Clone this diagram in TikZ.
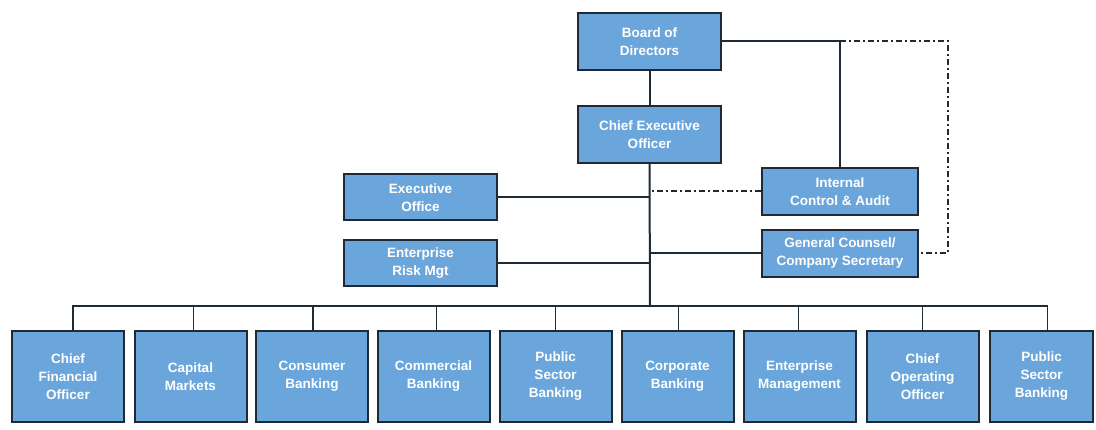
\documentclass[tikz,border=0pt]{standalone}
\usepackage{fontspec}
\setmainfont{Liberation Sans}
\usetikzlibrary{calc}
\definecolor{boxblue}{HTML}{6AA6DB}
\definecolor{edge}{HTML}{1E2A36}
\tikzset{
  box/.style={draw=edge, line width=2pt, fill=boxblue, text=white,
    font=\bfseries\fontsize{13.5}{18}\selectfont, align=center, inner sep=0pt},
  upper/.style={box, minimum width=143pt, minimum height=57pt},
  side/.style={box, minimum width=153pt, minimum height=46pt},
  staff/.style={box, minimum width=156pt, minimum height=47pt},
  unit/.style={box, minimum width=112pt, minimum height=91pt},
  link/.style={draw=edge, line width=2pt},
  buslink/.style={draw=edge, line width=1.5pt},
  dotted link/.style={draw=edge, line width=2pt, dash pattern=on 6pt off 3pt on 2pt off 3pt},
}
\begin{document}
\begin{tikzpicture}[x=1pt,y=-1pt]
\useasboundingbox[fill=white] (0,0) rectangle (1096,430);

% top of the hierarchy
\node[upper] (board) at (649.5,41.5) {Board of\\Directors};
\node[upper] (ceo) at (649.5,134.5) {Chief Executive\\Officer};

% offices beside the chief executive
\node[side] (exec) at (420.5,197.5) {Executive\\Office};
\node[side] (erm) at (420.5,263.5) {Enterprise\\Risk Mgt};
\node[staff] (ica) at (840,191.5) {Internal\\Control \& Audit};
\node[staff] (gcs) at (840,253.5) {General Counsel/\\Company Secretary};

% business units
\node[unit] (u1) at (68,376.5) {Chief\\Financial\\Officer};
\node[unit] (u2) at (190.5,376.5) {Capital\\Markets};
\node[unit] (u3) at (312,376.5) {Consumer\\Banking};
\node[unit] (u4) at (433.5,376.5) {Commercial\\Banking};
\node[unit] (u5) at (555.5,376.5) {Public\\Sector\\Banking};
\node[unit] (u6) at (677.5,376.5) {Corporate\\Banking};
\node[unit] (u7) at (799.5,376.5) {Enterprise\\Management};
\node[unit] (u8) at (922.5,376.5) {Chief\\Operating\\Officer};
\node[unit, minimum width=103pt] (u9) at (1041.5,376.5) {Public\\Sector\\Banking};

% reporting lines
\coordinate (bus) at (650,306);
\coordinate (corner) at (948,41.5);
\draw[link] (board.south) -- (ceo.north);
\draw[link] (ceo.south) -- (bus);
\draw[link] (board.east) -| (ica.north);
\draw[dotted link] (ica.north |- board.east) -- (corner) |- (gcs.east);
\draw[dotted link] (ica.west) -- (ica.west -| ceo.south);
\draw[link] (gcs.west) -- (gcs.west -| ceo.south);
\draw[link] (exec.east) -- (exec.east -| ceo.south);
\draw[link] (erm.east) -- (erm.east -| ceo.south);

% bus to the business units
\draw[buslink] ([xshift=5pt]u1.north) |- (bus) -| ([xshift=6pt]u9.north);
\foreach \u/\dx in {u2/3,u3/1,u4/3,u5/0,u6/1,u7/-1,u8/0}
  \draw[buslink] ([xshift=\dx pt]\u.north) -- ([xshift=\dx pt]\u.north |- bus);
\end{tikzpicture}
\end{document}
